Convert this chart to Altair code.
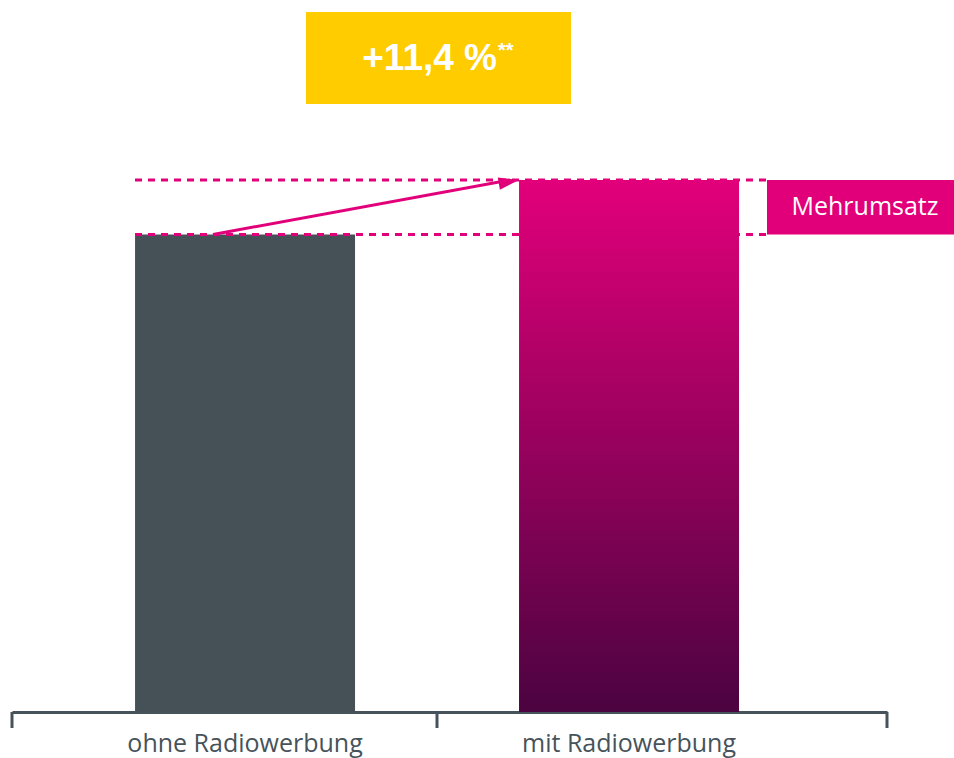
import altair as alt
import pandas as pd

# ---- data ----
categories = ["ohne Radiowerbung", "mit Radiowerbung"]
values = [100.0, 111.4]
uplift_text = ["+11,4 %"]
uplift_note = ["**"]
badge_text = ["Mehrumsatz"]

# ---- styling / layout ----
W, H = 875, 712
Y_MAX = 149.1
GRAY = "#465157"
AXIS = "#47535a"
PINK = "#e2007a"
DARK = "#4b0340"
YELLOW = "#ffcc00"
FONT = "Open Sans"

bars = pd.DataFrame({"cat": categories, "value": values})
ref = pd.DataFrame({"base": [values[0]], "top": [values[1]]})
lines = pd.DataFrame({"v": values})
one = pd.DataFrame({"d": [0]})

xscale = alt.Scale(domain=categories, paddingInner=0.4271, paddingOuter=0.3529, align=0.454)
yscale = alt.Scale(domain=[0, Y_MAX], nice=False, zero=True)

x_enc = alt.X(
    "cat:N", scale=xscale, sort=categories,
    axis=alt.Axis(title=None, labelAngle=0, ticks=False, domain=True,
                  domainColor=AXIS, domainWidth=3, labelFont=FONT, labelLimit=0,
                  labelFontSize=25, labelColor=AXIS, labelPadding=19, grid=False),
)

gray_bar = alt.Chart(bars).transform_filter(alt.datum.cat == categories[0]).mark_bar(
    color=GRAY).encode(x=x_enc, y=alt.Y("value:Q", scale=yscale, axis=None))

pink_bar = alt.Chart(bars).transform_filter(alt.datum.cat == categories[1]).mark_bar(
    color=alt.Gradient(gradient="linear", x1=0, x2=0, y1=0, y2=1,
                       stops=[alt.GradientStop(color=PINK, offset=0),
                              alt.GradientStop(color=DARK, offset=1)])
).encode(x=x_enc, y=alt.Y("value:Q", scale=yscale, axis=None))

dashes = alt.Chart(lines).mark_rule(color=PINK, strokeWidth=3, strokeDash=[7, 6]).encode(
    x=alt.value(123), x2=alt.value(755), y=alt.Y("v:Q", scale=yscale, axis=None))

shaft = alt.Chart(ref).mark_rule(color=PINK, strokeWidth=3).encode(
    x=alt.value(201), x2=alt.value(498),
    y=alt.Y("base:Q", scale=yscale, axis=None), y2="top:Q")

head = alt.Chart(ref).mark_point(
    shape="M0,0L-2,-0.6L-2,0.6Z", filled=True, color=PINK, opacity=1,
    size=420, angle=349.9, strokeWidth=0
).encode(x=alt.value(507), y=alt.Y("top:Q", scale=yscale, axis=None))

badge_box = alt.Chart(ref).mark_rect(color=PINK).encode(
    x=alt.value(755), x2=alt.value(942),
    y=alt.Y("top:Q", scale=yscale, axis=None), y2="base:Q", )

badge = alt.Chart(ref).transform_calculate(
    mid="(datum.base + datum.top) / 2", t=f"'{badge_text[0]}'"
).mark_text(color="white", font=FONT, fontSize=25, align="center", baseline="middle").encode(
    x=alt.value(853), y=alt.Y("mid:Q", scale=yscale, axis=None), text="t:N")

ybox = alt.Chart(one).mark_rect(color=YELLOW).encode(
    x=alt.value(294), x2=alt.value(559), y=alt.value(12), y2=alt.value(104))

ytext = alt.Chart(pd.DataFrame({"t": uplift_text})).mark_text(
    color="white", font="Liberation Sans", fontWeight="bold", fontSize=37,
    align="right", baseline="alphabetic").encode(
    x=alt.value(485), y=alt.value(70), text="t:N")

ynote = alt.Chart(pd.DataFrame({"t": uplift_note})).mark_text(
    color="white", font="Liberation Sans", fontWeight="bold", fontSize=20,
    align="left", baseline="alphabetic").encode(
    x=alt.value(486), y=alt.value(57), text="t:N")

ticks = [
    alt.Chart(one).mark_rule(color=AXIS, strokeWidth=3).encode(
        x=alt.value(px), y=alt.value(H), y2=alt.value(H + 16))
    for px in (0, 425, W)
]

chart = alt.layer(
    gray_bar, dashes, pink_bar, shaft, head, badge_box, badge, ybox, ytext, ynote, *ticks
).properties(
    width=W, height=H,
    autosize=alt.AutoSizeParams(type="none"),
    padding={"left": 12, "top": 0, "right": 67, "bottom": 46},
    background="white",
).configure_view(stroke=None)

chart.save("out.html", embed_options={"renderer": "svg", "actions": False})
